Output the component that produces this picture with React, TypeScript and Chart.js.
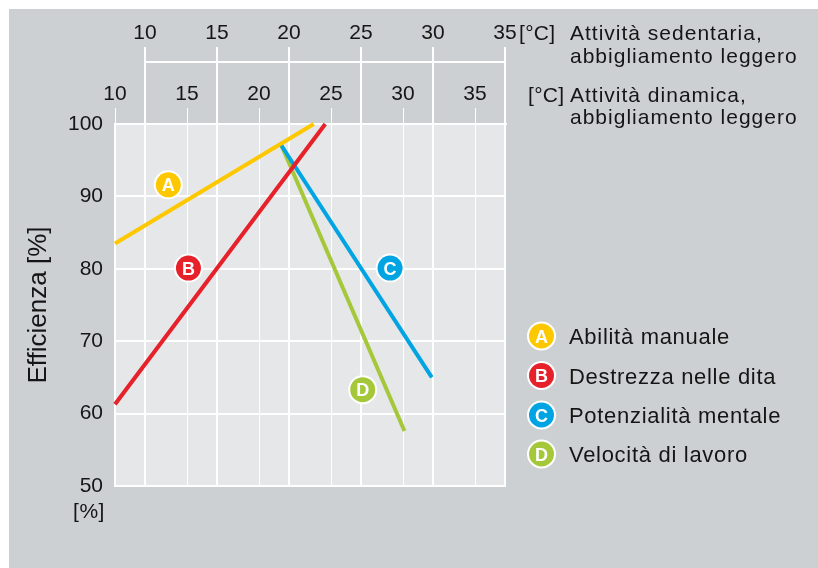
import React, { useEffect, useRef } from "react";
import { Chart, registerables } from "chart.js";

Chart.register(...registerables);

// ---------- data ----------
const seriesLabels = ["Abilità manuale", "Destrezza nelle dita", "Potenzialità mentale", "Velocità di lavoro"];
const seriesLetters = ["A", "B", "C", "D"];
const seriesColors = ["#fdc800", "#e62129", "#00a4e2", "#a5c83a"];

// x values on the "Attività dinamica" scale (°C), y values in %
const lineA = [{ x: 10, y: 83.5 }, { x: 23.8, y: 100 }];
const lineB = [{ x: 10, y: 61.3 }, { x: 24.6, y: 100 }];
const lineC = [{ x: 21.5, y: 97.2 }, { x: 32.0, y: 65.0 }];
const lineD = [{ x: 21.5, y: 97.3 }, { x: 30.1, y: 57.6 }];
const seriesData = [lineA, lineB, lineC, lineD];

// label badge positions (same units)
const markerPoints = [
  { x: 13.7, y: 91.6 },
  { x: 15.1, y: 80.1 },
  { x: 29.1, y: 80.1 },
  { x: 27.2, y: 63.3 },
];

const yTicks = [50, 60, 70, 80, 90, 100];
const xTicksDinamica = [10, 15, 20, 25, 30, 35];
const xTicksSedentaria = [10, 15, 20, 25, 30, 35];

const axisLabelSedentaria = ["Attività sedentaria,", "abbigliamento leggero"];
const axisLabelDinamica = ["Attività dinamica,", "abbigliamento leggero"];
const unitLabel = "[°C]";
const yTitle = "Efficienza [%]";
const yUnit = "[%]";

// ---------- style ----------
const FONT = "'Liberation Sans', Arial, Helvetica, sans-serif";
const PANEL = "#cdd0d2";
const PLOT = "#e6e7e9";
const TEXT = "#151515";

function drawBadge(ctx: CanvasRenderingContext2D, cx: number, cy: number, color: string, letter: string) {
  ctx.save();
  ctx.beginPath();
  ctx.arc(cx, cy, 14.5, 0, Math.PI * 2);
  ctx.fillStyle = "#ffffff";
  ctx.fill();
  ctx.beginPath();
  ctx.arc(cx, cy, 12.5, 0, Math.PI * 2);
  ctx.fillStyle = color;
  ctx.fill();
  ctx.fillStyle = "#ffffff";
  ctx.font = `bold 18px ${FONT}`;
  ctx.textAlign = "center";
  ctx.textBaseline = "alphabetic";
  ctx.fillText(letter, cx, cy + 6.5);
  ctx.restore();
}

function drawText(ctx: CanvasRenderingContext2D, text: string, x: number, y: number, size: number, spacing: number, align: CanvasTextAlign = "left") {
  ctx.save();
  ctx.font = `${size}px ${FONT}`;
  ctx.fillStyle = TEXT;
  ctx.textAlign = align;
  ctx.textBaseline = "alphabetic";
  (ctx as any).letterSpacing = `${spacing}px`;
  ctx.fillText(text, x, y);
  ctx.restore();
}

const backgroundPlugin = {
  id: "bgPanel",
  beforeDraw(chart: any) {
    const { ctx, chartArea } = chart;
    ctx.save();
    ctx.fillStyle = "#ffffff";
    ctx.fillRect(0, 0, chart.width, chart.height);
    ctx.fillStyle = PANEL;
    ctx.fillRect(9, 9, chart.width - 9, chart.height - 9);
    ctx.fillStyle = PLOT;
    ctx.fillRect(chartArea.left, chartArea.top, chartArea.right - chartArea.left, chartArea.bottom - chartArea.top);
    ctx.restore();
  },
};

const overlayPlugin = {
  id: "overlay",
  afterDatasetsDraw(chart: any) {
    const { ctx } = chart;
    const xs = chart.scales.x;
    const ys = chart.scales.y;
    markerPoints.forEach((p, i) => {
      drawBadge(ctx, xs.getPixelForValue(p.x), ys.getPixelForValue(p.y), seriesColors[i], seriesLetters[i]);
    });
  },
  afterDraw(chart: any) {
    const { ctx, chartArea } = chart;
    const x2 = chart.scales.x2;

    // extension of the upper scale's lines down to the plot, and its baseline
    ctx.save();
    ctx.strokeStyle = "#ffffff";
    ctx.lineWidth = 2;
    const yb = Math.round(x2.bottom);
    x2.ticks.forEach((t: any) => {
      const px = Math.round(x2.getPixelForValue(t.value));
      ctx.beginPath();
      ctx.moveTo(px, yb);
      ctx.lineTo(px, chartArea.top);
      ctx.stroke();
    });
    const first = Math.round(x2.getPixelForValue(x2.ticks[0].value));
    const last = Math.round(x2.getPixelForValue(x2.ticks[x2.ticks.length - 1].value));
    ctx.beginPath();
    ctx.moveTo(first - 1, yb);
    ctx.lineTo(last + 1, yb);
    ctx.stroke();
    ctx.restore();

    // axis captions
    const capX = chartArea.right + 64;
    drawText(ctx, unitLabel, chartArea.right + 13, 40, 21, 0.3);
    drawText(ctx, axisLabelSedentaria[0], capX, 40, 21, 1);
    drawText(ctx, axisLabelSedentaria[1], capX, 63, 21, 1);
    drawText(ctx, unitLabel, chartArea.right + 22, 102, 21, 0.3);
    drawText(ctx, axisLabelDinamica[0], capX, 102, 21, 1);
    drawText(ctx, axisLabelDinamica[1], capX, 124, 21, 1);

    // [%] under the y axis
    drawText(ctx, yUnit, 89, 518, 21, 0.5, "center");

    // legend
    const legendY = [336, 375.5, 415, 454];
    chart.data.datasets.forEach((ds: any, i: number) => {
      const cy = legendY[i];
      drawBadge(ctx, chartArea.right + 35.5, cy, seriesColors[i], seriesLetters[i]);
      drawText(ctx, ds.label, chartArea.right + 63, cy + 8, 22, 0.7);
    });
  },
};

export default function App() {
  const canvasRef = useRef<HTMLCanvasElement | null>(null);

  useEffect(() => {
    if (!canvasRef.current) return;
    Chart.defaults.font.family = FONT;
    const chart = new Chart(canvasRef.current, {
      type: "line",
      data: {
        datasets: seriesData.map((d, i) => ({
          label: seriesLabels[i],
          data: d,
          borderColor: seriesColors[i],
          backgroundColor: seriesColors[i],
          borderWidth: 4,
          pointRadius: 0,
          fill: false,
          tension: 0,
          xAxisID: "x",
          yAxisID: "y",
          clip: 6,
        })),
      },
      options: {
        responsive: false,
        animation: false,
        devicePixelRatio: 1,
        layout: { padding: { left: 10, top: 0, right: 312, bottom: 82 } },
        plugins: {
          legend: { display: false },
          tooltip: { enabled: false },
        },
        scales: {
          x: {
            type: "linear",
            position: "top",
            weight: 0,
            min: 10,
            max: 37.15,
            afterBuildTicks: (s: any) => {
              s.ticks = xTicksDinamica.map((v) => ({ value: v }));
            },
            afterFit: (s: any) => {
              s.height = 62;
            },
            grid: {
              color: "#ffffff",
              lineWidth: 1,
              drawOnChartArea: true,
              drawTicks: true,
              tickLength: 16,
              tickColor: "#ffffff",
              tickWidth: 1,
            },
            border: { display: true, color: "#ffffff", width: 2 },
            ticks: { font: { size: 21 }, color: TEXT, padding: 1, maxRotation: 0, autoSkip: false },
          },
          x2: {
            type: "linear",
            position: "top",
            weight: 1,
            min: 7.92,
            max: 35.07,
            afterBuildTicks: (s: any) => {
              s.ticks = xTicksSedentaria.map((v) => ({ value: v }));
            },
            afterFit: (s: any) => {
              s.height = 62;
            },
            grid: {
              color: "#ffffff",
              lineWidth: 2,
              drawOnChartArea: true,
              drawTicks: true,
              tickLength: 15,
              tickColor: "#ffffff",
              tickWidth: 2,
            },
            border: { display: false },
            ticks: { font: { size: 21 }, color: TEXT, padding: 1, maxRotation: 0, autoSkip: false },
          },
          y: {
            type: "linear",
            position: "left",
            min: 50,
            max: 100,
            afterBuildTicks: (s: any) => {
              s.ticks = yTicks.map((v) => ({ value: v }));
            },
            afterFit: (s: any) => {
              s.width = 105;
            },
            grid: { color: "#ffffff", lineWidth: 2, drawTicks: false },
            border: { display: true, color: "#ffffff", width: 2 },
            ticks: { font: { size: 21 }, color: TEXT, padding: 12 },
            title: {
              display: true,
              text: yTitle,
              color: TEXT,
              font: { size: 26 },
              padding: { top: 13, bottom: 0 },
            },
          },
        },
      },
      plugins: [backgroundPlugin, overlayPlugin],
    } as any);
    return () => chart.destroy();
  }, []);

  return (
    <div style={{ position: "absolute", left: 0, top: 0, width: 818, height: 568 }}>
      <canvas ref={canvasRef} width={818} height={568} style={{ display: "block", width: 818, height: 568 }} />
    </div>
  );
}
